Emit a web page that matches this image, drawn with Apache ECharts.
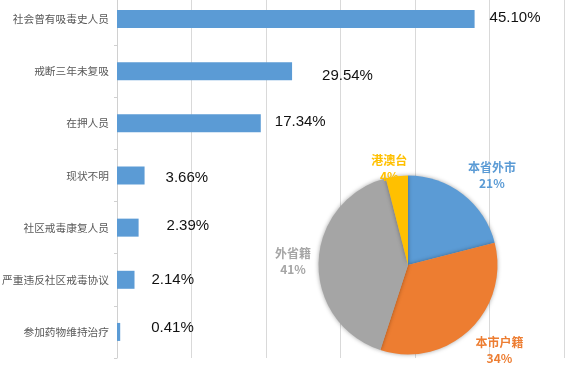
<!DOCTYPE html>
<html>
<head>
<meta charset="utf-8">
<script src="https://cdn.jsdelivr.net/npm/echarts@6/dist/echarts.min.js"></script>
<style>
  html, body { margin: 0; padding: 0; background: #fff; }
  #chart { width: 565px; height: 376px; }
</style>
</head>
<body>
<div id="chart"></div>
<script>
// bar chart: categories, bar lengths and their printed labels
let categories = ['社会曾有吸毒史人员', '戒断三年未复吸', '在押人员', '现状不明', '社区戒毒康复人员', '严重违反社区戒毒协议', '参加药物维持治疗'];
let barValues  = [48.0, 23.5, 19.3, 3.7, 2.9, 2.35, 0.43];
let pctLabels  = ['45.10%', '29.54%', '17.34%', '3.66%', '2.39%', '2.14%', '0.41%'];

// pie chart: origin of the people
let pieNames  = ['本省外市', '本市户籍', '外省籍', '港澳台'];
let pieValues = [21, 34, 41, 4];
let pieColors = ['#5B9BD5', '#ED7D31', '#A5A5A5', '#FFC000'];

// label placement (layout only)
let labelShift    = [[10, -1], [25, 5], [9, -1], [16, 2], [23, -2], [12, 0], [26, -4]];
let pieLabelSpots = [[43, 123], [133, 125], [272, 115], [349, 98]];
let pieCenter = [408, 265];
let pieRadius = 89.5;

let barData = [];
for(let i = 0; i < barValues.length; i++){
    barData.push({
        value: barValues[i],
        label: { offset: labelShift[i], formatter: pctLabels[i] }
    });
}

let pieData = [];
for(let i = 0; i < pieNames.length; i++){
    pieData.push({
        name: pieNames[i],
        value: pieValues[i],
        itemStyle: { color: pieColors[i] },
        label: { color: pieColors[i] }
    });
}

let chart = echarts.init(document.getElementById('chart'));
chart.setOption({
    animation: false,
    textStyle: { fontFamily: '"Noto Sans CJK SC", "Liberation Sans", sans-serif' },
    grid: { left: 117, right: 1, top: -7, bottom: 18, containLabel: false, outerBoundsMode: 'none' },
    xAxis: {
        type: 'value',
        min: 0,
        max: 60,
        interval: 10,
        axisLabel: { show: false },
        axisLine: { show: false },
        axisTick: { show: false },
        splitLine: { lineStyle: { color: '#d9d9d9', width: 1 } }
    },
    yAxis: {
        type: 'category',
        data: categories,
        inverse: true,
        axisLine: { lineStyle: { color: '#d0d0d0' } },
        axisTick: { show: true, length: 3, lineStyle: { color: '#d0d0d0' } },
        axisLabel: { color: '#595959', fontSize: 10.7, margin: 8 }
    },
    series: [
        {
            type: 'bar',
            data: barData,
            barWidth: 18,
            itemStyle: { color: '#5B9BD5' },
            label: {
                show: true,
                position: 'right',
                distance: 5,
                color: '#111',
                fontSize: 15,
                fontFamily: '"Liberation Sans", Arial, sans-serif'
            }
        },
        {
            type: 'pie',
            center: pieCenter,
            radius: pieRadius,
            startAngle: 90,
            clockwise: true,
            data: pieData,
            itemStyle: {
                borderWidth: 0,
                shadowBlur: 4,
                shadowColor: 'rgba(0,0,0,0.35)'
            },
            label: {
                show: true,
                position: 'outside',
                alignTo: 'none',
                overflow: 'none',
                fontSize: 12,
                fontWeight: 'bold',
                lineHeight: 16,
                formatter: function(p){ return p.name + '\n' + p.value + '%'; }
            },
            labelLine: { show: false },
            labelLayout: function(params){
                let spot = pieLabelSpots[params.dataIndex];
                let a = spot[0] * Math.PI / 180;
                return {
                    x: pieCenter[0] + spot[1] * Math.sin(a),
                    y: pieCenter[1] - spot[1] * Math.cos(a),
                    width: 60,
                    align: 'center',
                    verticalAlign: 'middle'
                };
            }
        }
    ]
});
</script>
</body>
</html>
